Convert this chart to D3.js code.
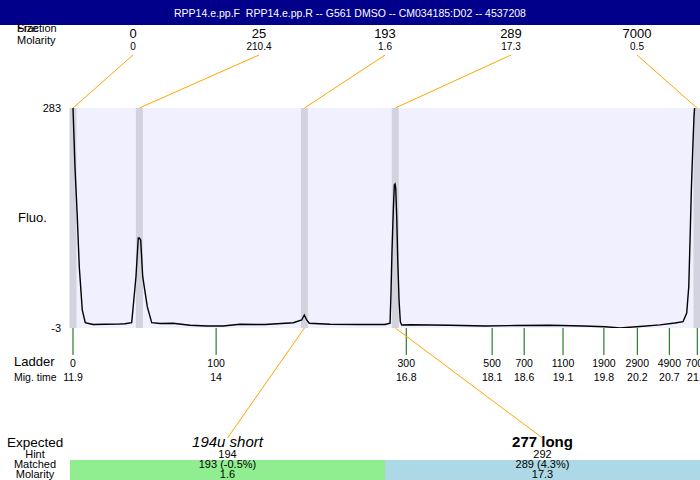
<!DOCTYPE html>
<html><head><meta charset="utf-8">
<script src="https://cdn.jsdelivr.net/npm/d3@7"></script>
<style>body{margin:0;background:#fff}svg{display:block;font-family:"Liberation Sans",Arial,sans-serif}</style>
</head><body>
<script>
// ---- data ----
const title = "RPP14.e.pp.F  RPP14.e.pp.R -- G561 DMSO -- CM034185:D02 -- 4537208";
const peakTimes = [11.900, 12.874, 15.296, 16.629, 21.056];
const peakSizes = ["0", "25", "193", "289", "7000"];
const peakMolarity = ["0", "210.4", "1.6", "17.3", "0.5"];
const ladderTimes = [11.90, 14.00, 16.79, 18.05, 18.52, 19.09, 19.69, 20.18, 20.65, 21.06];
const ladderSizes = ["0", "100", "300", "500", "700", "1100", "1900", "2900", "4900", "7000"];
const ladderMig = ["11.9", "14", "16.8", "18.1", "18.6", "19.1", "19.8", "20.2", "20.7", "21.1"];
const yTicks = [283, -3];
const traceTime = [11.895,11.900,11.929,11.963,11.992,12.036,12.080,12.194,12.370,12.560,12.663,12.761,12.824,12.858,12.873,12.893,12.923,12.990,13.055,13.177,13.367,13.617,13.866,14.101,14.350,14.717,15.133,15.256,15.294,15.329,15.367,15.671,16.111,16.478,16.552,16.566,16.581,16.600,16.615,16.625,16.635,16.650,16.665,16.684,16.703,16.723,16.845,17.432,17.946,18.415,18.899,19.383,19.706,19.926,20.220,20.513,20.733,20.851,20.905,20.935,20.954,20.973,20.993,21.012,21.034];
const traceFluo = [300,283,206.7,141.7,76.7,20.4,3.9,1.5,1.8,2.0,2.5,3.9,63.7,114,114,111.4,63.7,24.7,3.9,2.8,3.2,0.5,-0.4,-0.4,1.8,1.5,3.9,7.4,13.9,7.4,3.2,1.8,1.5,1.5,3.2,42.5,98.4,150.4,182.9,184.2,179,141.7,85.4,33.4,5.2,0.9,1.2,0.5,-0.4,0.2,0.5,-0.4,-1.3,-3.0,-1.0,1.0,3.5,5.2,16.5,50.7,111.4,176.4,228.4,271.7,300];
const expectedNames = ["194u short", "277 long"];
const expectedStyle = ["italic", "bold"];
const expectedHint = ["194", "292"];
const expectedMatched = ["193 (-0.5%)", "289 (4.3%)"];
const expectedMolarity = ["1.6", "17.3"];
const expectedPeak = [2, 3]; // index into peakTimes
const expectedColor = ["#90EE90", "#ADD8E6"];

// ---- layout ----
const W = 700, H = 480;
const plot = {left: 70, right: 700, top: 108, bottom: 328};
const svg = d3.select("body").append("svg").attr("width", W).attr("height", H);

const x = d3.scaleLinear().domain([11.856, 21.1]).range([plot.left, plot.right]);
const y = d3.scaleLinear().domain([-3, 283]).range([plot.bottom, plot.top]);

// title bar
svg.append("rect").attr("x", 0).attr("y", 0).attr("width", W).attr("height", 25).attr("fill", "#00008B");
svg.append("text").attr("x", 350).attr("y", 17).attr("text-anchor", "middle")
  .style("white-space", "pre").attr("xml:space", "preserve")
  .attr("fill", "#fff").attr("font-size", 10.5).text(title);

// plot background
svg.append("rect").attr("x", plot.left).attr("y", plot.top)
  .attr("width", plot.right - plot.left).attr("height", plot.bottom - plot.top).attr("fill", "#F0F0FF");

// peak bands
svg.selectAll(".band").data(peakTimes).join("rect")
  .attr("x", d => x(d) - 3.5).attr("y", plot.top)
  .attr("width", d => Math.min(7, plot.right - (x(d) - 3.5)))
  .attr("height", plot.bottom - plot.top).attr("fill", "#D3D3E0");

// trace
svg.append("clipPath").attr("id", "clip").append("rect")
  .attr("x", plot.left).attr("y", plot.top).attr("width", plot.right - plot.left).attr("height", plot.bottom - plot.top);
const line = d3.line().x((d, i) => x(traceTime[i])).y(d => y(d));
svg.append("path").attr("d", line(traceFluo)).attr("fill", "none")
  .attr("stroke", "#000").attr("stroke-width", 1.4).attr("clip-path", "url(#clip)");

// y labels
svg.selectAll(".yl").data(yTicks).join("text")
  .attr("x", 61).attr("y", d => y(d) + 4).attr("text-anchor", "end")
  .attr("font-size", 11).text(d => d);
svg.append("text").attr("x", 18).attr("y", 222).attr("font-size", 13).text("Fluo.");

// top peak labels
const topX = d3.scalePoint().domain(d3.range(peakTimes.length)).range([133, 637]);
svg.append("text").attr("x", 17).attr("y", 32).attr("font-size", 11).text("Fraction");
svg.append("text").attr("x", 17).attr("y", 32).attr("font-size", 11).text("Size");
svg.append("text").attr("x", 17).attr("y", 44).attr("font-size", 11).text("Molarity");
peakTimes.forEach((t, i) => {
  svg.append("text").attr("x", topX(i)).attr("y", 38).attr("text-anchor", "middle").attr("font-size", 13).text(peakSizes[i]);
  svg.append("text").attr("x", topX(i)).attr("y", 50).attr("text-anchor", "middle").attr("font-size", 10).text(peakMolarity[i]);
  svg.append("line").attr("x1", topX(i)).attr("y1", 55).attr("x2", x(t)).attr("y2", plot.top)
    .attr("stroke", "#FFA500").attr("stroke-width", 1);
});

// ladder
svg.append("text").attr("x", 14).attr("y", 366).attr("font-size", 13).text("Ladder");
svg.append("text").attr("x", 14).attr("y", 381).attr("font-size", 10.5).text("Mig. time");
ladderTimes.forEach((t, i) => {
  svg.append("line").attr("x1", x(t)).attr("x2", x(t)).attr("y1", plot.bottom).attr("y2", 355)
    .attr("stroke", "#006400").attr("stroke-width", 1);
  svg.append("text").attr("x", x(t)).attr("y", 367).attr("text-anchor", "middle").attr("font-size", 10.5).text(ladderSizes[i]);
  svg.append("text").attr("x", x(t)).attr("y", 381).attr("text-anchor", "middle").attr("font-size", 10.5).text(ladderMig[i]);
});

// expected
const band = d3.scaleBand().domain(d3.range(expectedNames.length)).range([plot.left, plot.right]);
svg.append("text").attr("x", 7).attr("y", 447).attr("font-size", 13.5).text("Expected");
[["Hint", 458], ["Matched", 468], ["Molarity", 478]].forEach(([s, yy]) =>
  svg.append("text").attr("x", 35).attr("y", yy).attr("text-anchor", "middle").attr("font-size", 11).text(s));
expectedNames.forEach((n, i) => {
  const cx = band(i) + band.bandwidth() / 2;
  svg.append("rect").attr("x", band(i)).attr("y", 460).attr("width", band.bandwidth()).attr("height", 20).attr("fill", expectedColor[i]);
  svg.append("line").attr("x1", x(peakTimes[expectedPeak[i]])).attr("y1", plot.bottom).attr("x2", cx).attr("y2", 438)
    .attr("stroke", "#FFA500").attr("stroke-width", 1);
  const t = svg.append("text").attr("x", cx).attr("y", 447).attr("text-anchor", "middle").attr("font-size", 15).text(n);
  if (expectedStyle[i] === "italic") t.attr("font-style", "italic"); else t.attr("font-weight", "bold");
  svg.append("text").attr("x", cx).attr("y", 458).attr("text-anchor", "middle").attr("font-size", 11).text(expectedHint[i]);
  svg.append("text").attr("x", cx).attr("y", 468).attr("text-anchor", "middle").attr("font-size", 11).text(expectedMatched[i]);
  svg.append("text").attr("x", cx).attr("y", 478).attr("text-anchor", "middle").attr("font-size", 11).text(expectedMolarity[i]);
});
</script>
</body></html>
